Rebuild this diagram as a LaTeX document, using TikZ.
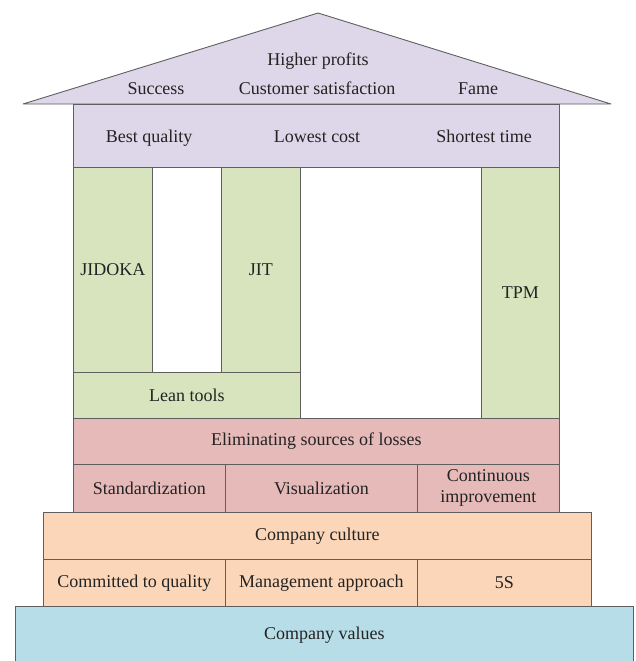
\documentclass[tikz,border=0pt]{standalone}
\usepackage{fontspec}
\setmainfont{Liberation Serif}
\usetikzlibrary{positioning}
\definecolor{roofviolet}{RGB}{221,215,233}
\definecolor{pillargreen}{RGB}{215,228,190}
\definecolor{lossred}{RGB}{230,186,185}
\definecolor{cultureorange}{RGB}{251,214,184}
\definecolor{valueblue}{RGB}{183,222,232}
\definecolor{edgegray}{RGB}{95,95,95}
\definecolor{textgray}{RGB}{35,35,35}

\begin{document}
\begin{tikzpicture}[x=1pt, y=-1pt, font=\rmfamily\fontsize{18}{21}\selectfont]
    \tikzstyle{block}=[draw=edgegray, line width=0.9pt, anchor=north west,
                       inner sep=0pt, align=center, text=textgray]
    \tikzstyle{caption}=[text=textgray, inner sep=0pt, anchor=base]
    \useasboundingbox (0,0) rectangle (636,661);
    % Roof
    \coordinate (eaveL) at (23,104);
    \coordinate (ridge) at (318,13);
    \coordinate (eaveR) at (611,104);
    \draw[fill=roofviolet, draw=edgegray, line width=0.9pt, line join=round]
        (eaveL) -- (ridge) -- (eaveR) -- cycle;
    \foreach \x/\y/\name/\txt in {318/66/profits/Higher profits,
        156/95/success/Success, 317/95/satisfaction/Customer satisfaction,
        478/95/fame/Fame}
        \node[caption] (\name) at (\x,\y) {\txt};
    % Goals below the roof
    \node[block, fill=roofviolet, minimum width=486pt, minimum height=63pt]
        (goals) at (73,104) {};
    \foreach \x/\name/\txt in {149/quality/Best quality, 317/cost/Lowest cost,
        484/time/Shortest time}
        \node[caption] (\name) at (\x,142) {\txt};
    % Pillars and the layers of the base
    \foreach \x/\y/\w/\h/\col/\name/\txt in {
        73/167/79/205/pillargreen/jidoka/JIDOKA,
        221/167/79/205/pillargreen/jit/JIT,
        73/372/227/46/pillargreen/leantools/Lean tools,
        481/167/78/251/pillargreen/tpm/TPM,
        73/418/486/46/lossred/losses/Eliminating sources of losses,
        73/464/152/48/lossred/standard/Standardization,
        225/464/192/48/lossred/visual/Visualization,
        417/464/142/48/lossred/kaizen/{Continuous\\improvement},
        43/512/548/47/cultureorange/culture/Company culture,
        43/559/182/47/cultureorange/committed/Committed to quality,
        225/559/192/47/cultureorange/approach/Management approach,
        417/559/174/47/cultureorange/fives/5S,
        15/606/618/58/valueblue/values/Company values}
        \node[block, fill=\col, minimum width=\w pt, minimum height=\h pt]
            (\name) at (\x,\y) {\txt};
\end{tikzpicture}
\end{document}
